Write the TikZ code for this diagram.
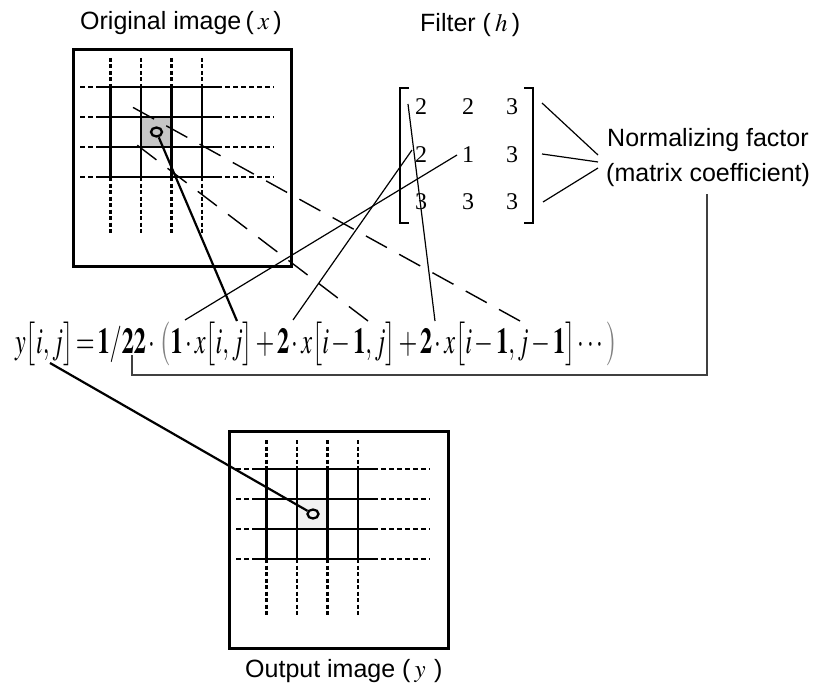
\documentclass[tikz,border=0pt]{standalone}
\usepackage{mathptmx}
\usepackage[no-math]{fontspec}
\setmainfont{Liberation Serif}
\setsansfont{Liberation Sans}
\usetikzlibrary{shapes.geometric}
\newcommand\tsp{\mkern2mu}
\tikzset{
  frame/.style={draw, line width=3pt, inner sep=0pt},
  gsolid/.style={line width=2.1pt},
  gdash/.style={line width=2.1pt, dash pattern=on 4pt off 2.5pt},
  hdash/.style={line width=1.9pt, dash pattern=on 5pt off 3pt},
  pixel/.style={draw, ellipse, line width=2.3pt, minimum width=11pt, minimum height=9pt, inner sep=0pt},
  heavy/.style={line width=2.2pt},
  thinlink/.style={line width=1.2pt},
  longdash/.style={line width=1.4pt, dash pattern=on 24pt off 14pt},
  lconn/.style={line width=1.8pt, draw=black!75},
  lbl/.style={font=\sffamily\fontsize{25}{30}\selectfont, inner sep=0pt},
  mnum/.style={font=\fontsize{24}{28}\selectfont, inner sep=0pt},
  bracket/.style={line width=1.4pt},
  pics/imggrid/.style={code={
    \foreach \v in {38.5,69,99.5,130}{
      \draw[gsolid] (\v,39) -- (\v,129);
      \draw[gdash] (\v,10) -- (\v,39);
      \draw[gdash] (\v,129) -- (\v,185);
    }
    \foreach \h in {39,69,99,129}{
      \draw[gsolid] (25,\h) -- (145,\h);
      \draw[hdash] (8,\h) -- (25,\h);
      \draw[hdash] (145,\h) -- (202,\h);
    }
  }}
}
\begin{document}
\begin{tikzpicture}[x=1pt,y=-1pt]
\useasboundingbox (0,0) rectangle (818,687);
% titles
\node[lbl, anchor=base west] (torig) at (80,29.5) {Original image\,(\,$x$\,)};
\node[lbl, anchor=base west] (tfilt) at (420,32) {Filter (\,$h$\,)};
\node[lbl, anchor=base west] (tout) at (245,677) {Output image (\,$y$\,\,)};
% original image
\fill[gray!45] (141,117) rectangle (171.5,147);
\pic at (72,48) {imggrid};
\node[frame, minimum width=218pt, minimum height=217pt, anchor=north west] (orig) at (72,48) {};
\node[pixel] (c1) at (156.5,132) {};
% output image
\fill[gray!10] (297,499) rectangle (327.5,529);
\pic at (228,430) {imggrid};
\node[frame, minimum width=219pt, minimum height=217pt, anchor=north west] (outimg) at (228,430) {};
\node[pixel] (c2) at (313,514) {};
% filter matrix
\node[mnum] (m11) at (421,107) {2};
\node[mnum] (m12) at (468,107) {2};
\node[mnum] (m13) at (512,107) {3};
\node[mnum] (m21) at (421,155) {2};
\node[mnum] (m22) at (468,155) {1};
\node[mnum] (m23) at (512,155) {3};
\node[mnum] (m31) at (421,202) {3};
\node[mnum] (m32) at (468,202) {3};
\node[mnum] (m33) at (512,202) {3};
\draw[bracket] (409,88) -- (400,88) -- (400,223) -- (409,223);
\draw[bracket] (524,88) -- (533,88) -- (533,223) -- (524,223);
% normalizing factor
\node[lbl, anchor=base west] (nf1) at (607,147) {Normalizing factor};
\node[lbl, anchor=base west] (nf2) at (606,181) {(matrix coefficient)};
\coordinate (rb1) at (542,103);
\coordinate (rb2) at (542,154);
\coordinate (rb3) at (543,202);
\coordinate (n1) at (598,155);
\coordinate (n2) at (598,162);
\coordinate (n3) at (598,168);
\draw[thinlink] (rb1) -- (n1);
\draw[thinlink] (rb2) -- (n2);
\draw[thinlink] (rb3) -- (n3);
% equation
\node[anchor=base west, inner sep=0pt] (eq) at (15,353) {\resizebox{602pt}{31pt}{\fontsize{27}{30}\selectfont$y\bigl[i,j\bigr]\tsp{=}\tsp\mathbf{1}/\mathbf{22}\tsp{\cdot}\mkern3mu{\color{gray}\bigl(}\mathbf{1}\tsp{\cdot}\tsp x\bigl[i,j\bigr]\tsp{+}\tsp\mathbf{2}\tsp{\cdot}\tsp x\bigl[i\tsp{-}\tsp\mathbf{1},j\bigr]\tsp{+}\tsp\mathbf{2}\tsp{\cdot}\tsp x\bigl[i\tsp{-}\tsp\mathbf{1},j\tsp{-}\tsp\mathbf{1}\bigr]\cdots{\color{gray}\bigr)}$}};
\coordinate (e1) at (237,321);
\coordinate (ey) at (50,363);
\coordinate (t11) at (435,321);
\coordinate (t21) at (293,320);
\coordinate (t22) at (185,320);
\coordinate (s11) at (408,104);
\coordinate (s21) at (412,150);
\coordinate (s22) at (457,155);
\coordinate (dA1) at (520,321);
\coordinate (dA0) at (125,103);
\coordinate (dB1) at (368,321);
\coordinate (dB0) at (133,142);
\coordinate (k1) at (132,355);
\coordinate (k2) at (707,194);
% connectors
\draw[heavy] (c1) -- (e1);
\draw[heavy] (ey) -- (c2);
\draw[thinlink] (s11) -- (t11);
\draw[thinlink] (s21) -- (t21);
\draw[thinlink] (s22) -- (t22);
\draw[longdash] (dA1) -- (dA0);
\draw[longdash] (dB1) -- (dB0);
\draw[lconn] (k1) -- ++(0,20) -| (k2);
\end{tikzpicture}
\end{document}
